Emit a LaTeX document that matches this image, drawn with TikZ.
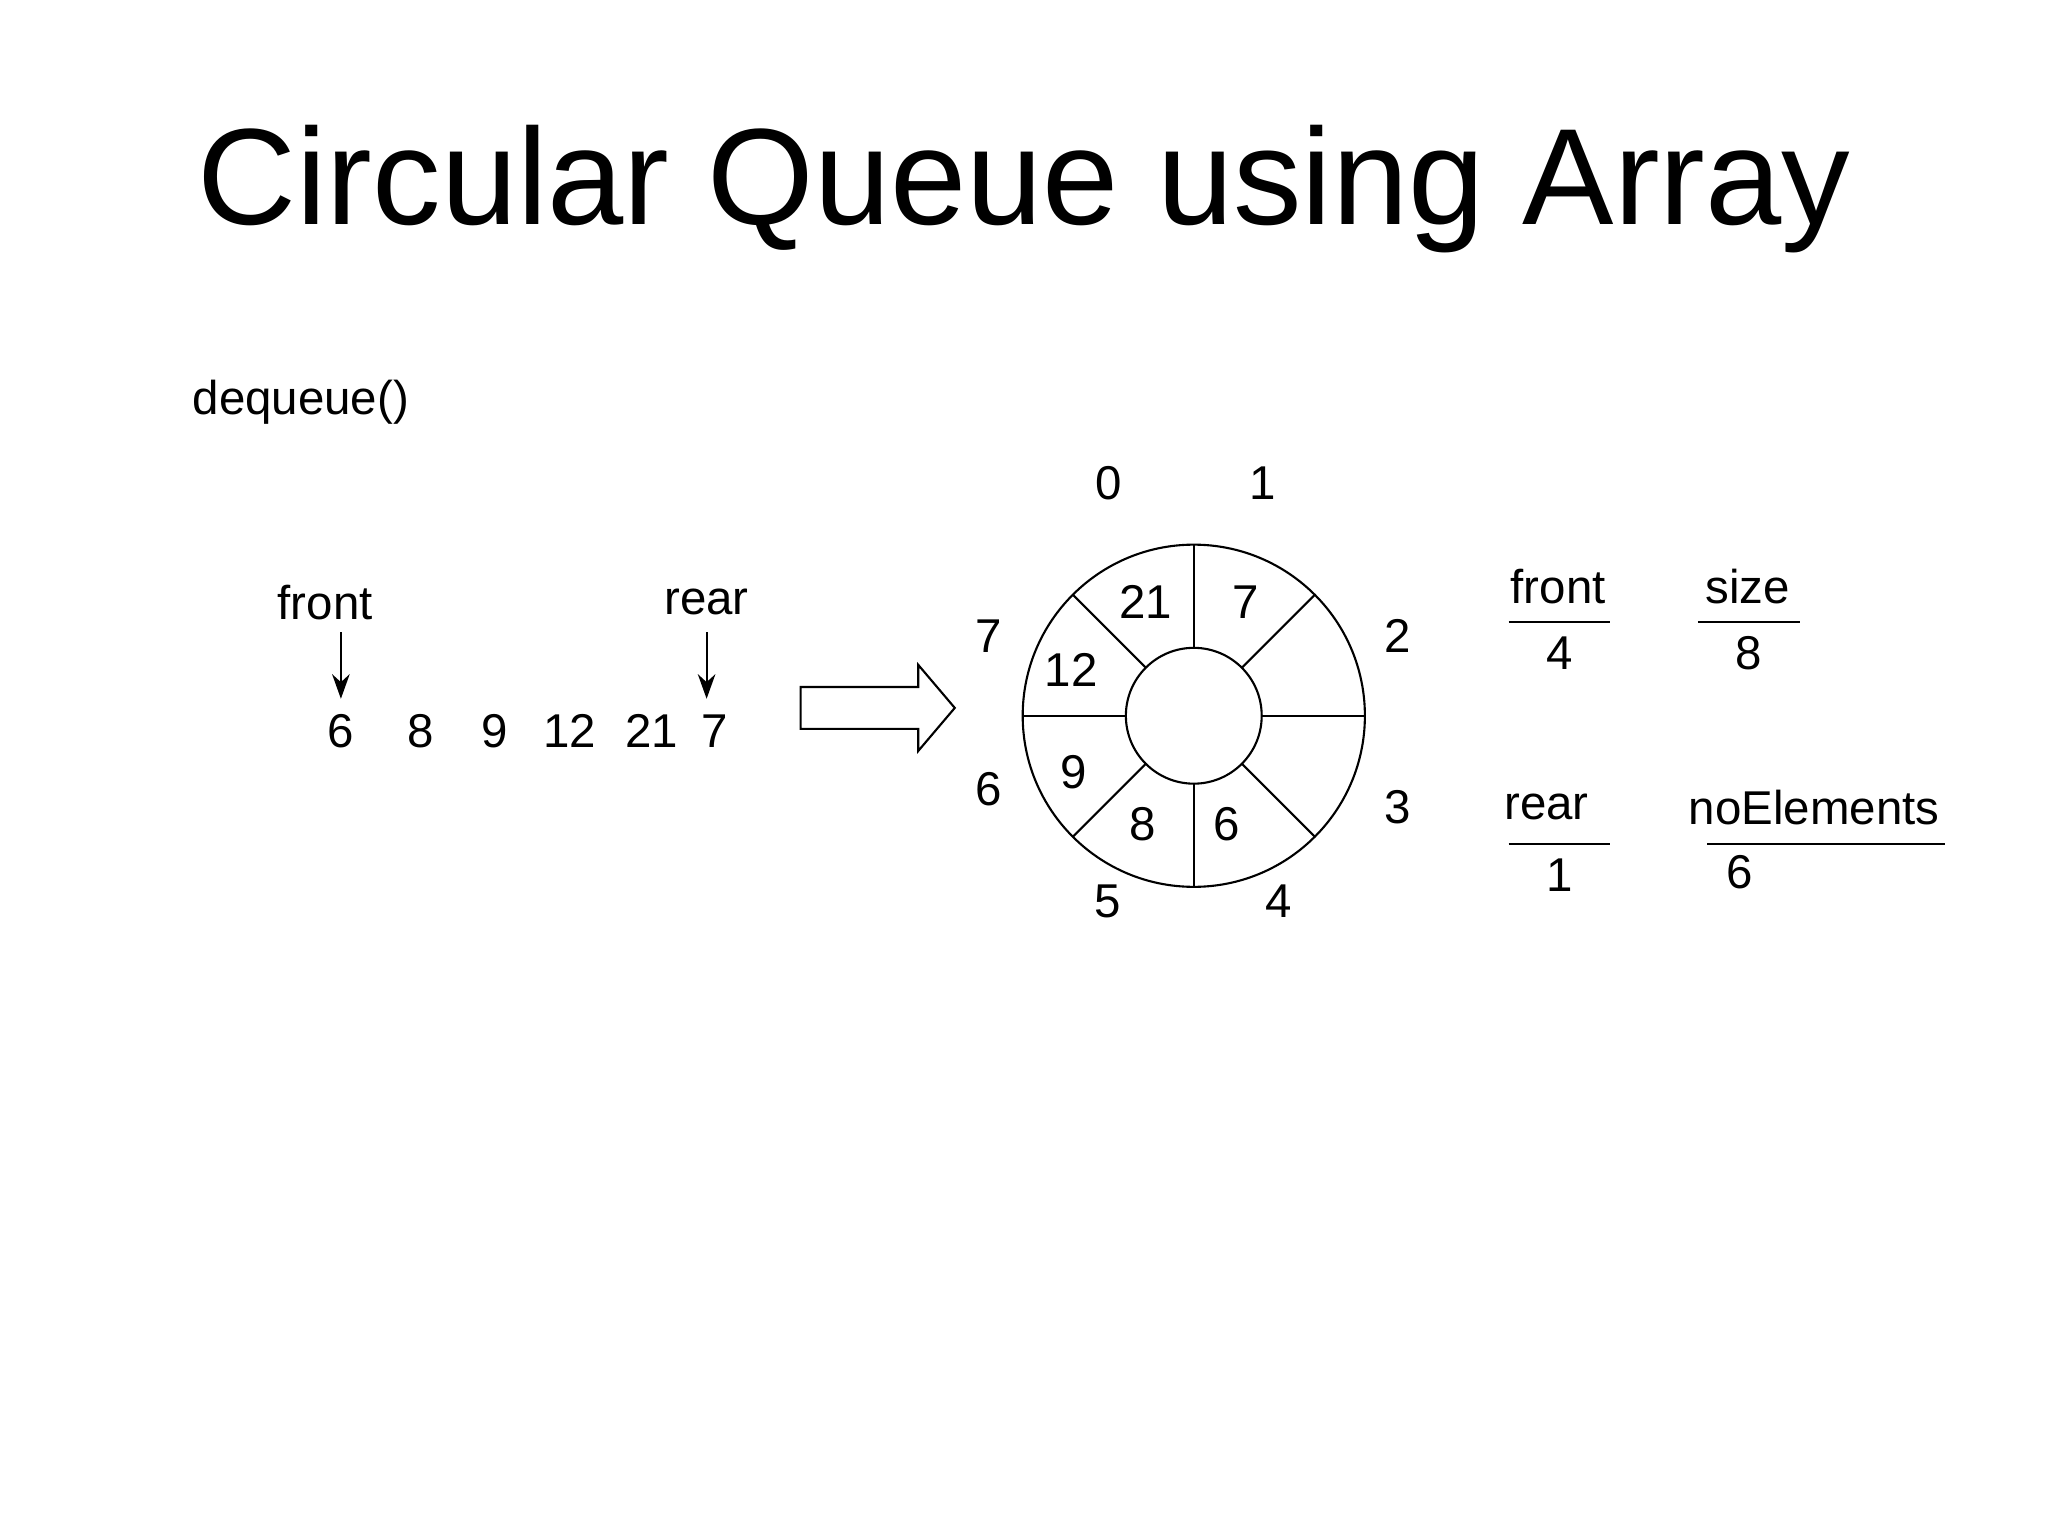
\documentclass[tikz,border=0pt]{standalone}
\usepackage{fontspec}
\setmainfont{Liberation Sans}
\usetikzlibrary{arrows.meta,calc}
\begin{document}
\begin{tikzpicture}[x=0.013061cm,y=-0.013061cm,
  lbl/.style={inner sep=0pt,font=\fontsize{13.5}{15}\selectfont},
  ln/.style={line width=0.6pt},
  ptr/.style={ln,-{Stealth[length=7pt,width=5pt]}}]
\useasboundingbox (0,0) rectangle (1568,1176);
\node[inner sep=0pt,font=\fontsize{39}{44}\selectfont] (title) at (784,145) {Circular Queue using Array};
\node[lbl,anchor=west] (dq) at (147,308) {dequeue()};
% linear array
\foreach \n/\x/\t in {a1/261/6,a2/322/8,a3/379/9,a4/436/12,a5/499/21,a6/547/7}
  \node[lbl] (\n) at (\x,560) {\t};
\node[lbl] (fl) at (249,461) {front};
\node[lbl] (rl) at (541,461) {rear};
\coordinate (fs) at (261,484); \coordinate (fe) at (261,535);
\coordinate (rs) at (541,484); \coordinate (re) at (541,535);
\draw[ptr] (fs) -- (fe);
\draw[ptr] (rs) -- (re);
% block arrow
\draw[ln] (613,526) -- (703,526) -- (703,509) -- (731,542) -- (703,575) -- (703,558) -- (613,558) -- cycle;
% ring
\coordinate (c) at (914,548);
\draw[ln] (c) circle[radius=131*0.013061cm];
\draw[ln] (c) circle[radius=52*0.013061cm];
\foreach \a in {0,45,...,315}
  \draw[ln] ($(c)+(\a:52*0.013061cm)$) -- ($(c)+(\a:131*0.013061cm)$);
\foreach \n/\x/\y/\t in {v0/877/461/21,v1/954/461/7,v7/820/513/12,v6/822/591/9,v5/875/631/8,v4/939/631/6}
  \node[lbl] (\n) at (\x,\y) {\t};
\foreach \n/\x/\y/\t in {i0/849/370/0,i1/967/370/1,i2/1070/487/2,i3/1070/618/3,i4/979/690/4,i5/848/690/5,i6/757/604/6,i7/757/487/7}
  \node[lbl] (\n) at (\x,\y) {\t};
% variables
\node[lbl] (fr) at (1193,449) {front};
\node[lbl] (frv) at (1194,500) {4};
\node[lbl] (sz) at (1338,449) {size};
\node[lbl] (szv) at (1339,500) {8};
\node[lbl] (re2) at (1184,618) {rear};
\node[lbl] (rev) at (1194,670) {1};
\node[lbl] (ne) at (1389,618) {noElements};
\node[lbl] (nev) at (1332,668) {6};
\draw[ln] (1155,476) -- (1233,476);
\draw[ln] (1300,476) -- (1378,476);
\draw[ln] (1155,646) -- (1233,646);
\draw[ln] (1307,646) -- (1489,646);
\end{tikzpicture}
\end{document}
